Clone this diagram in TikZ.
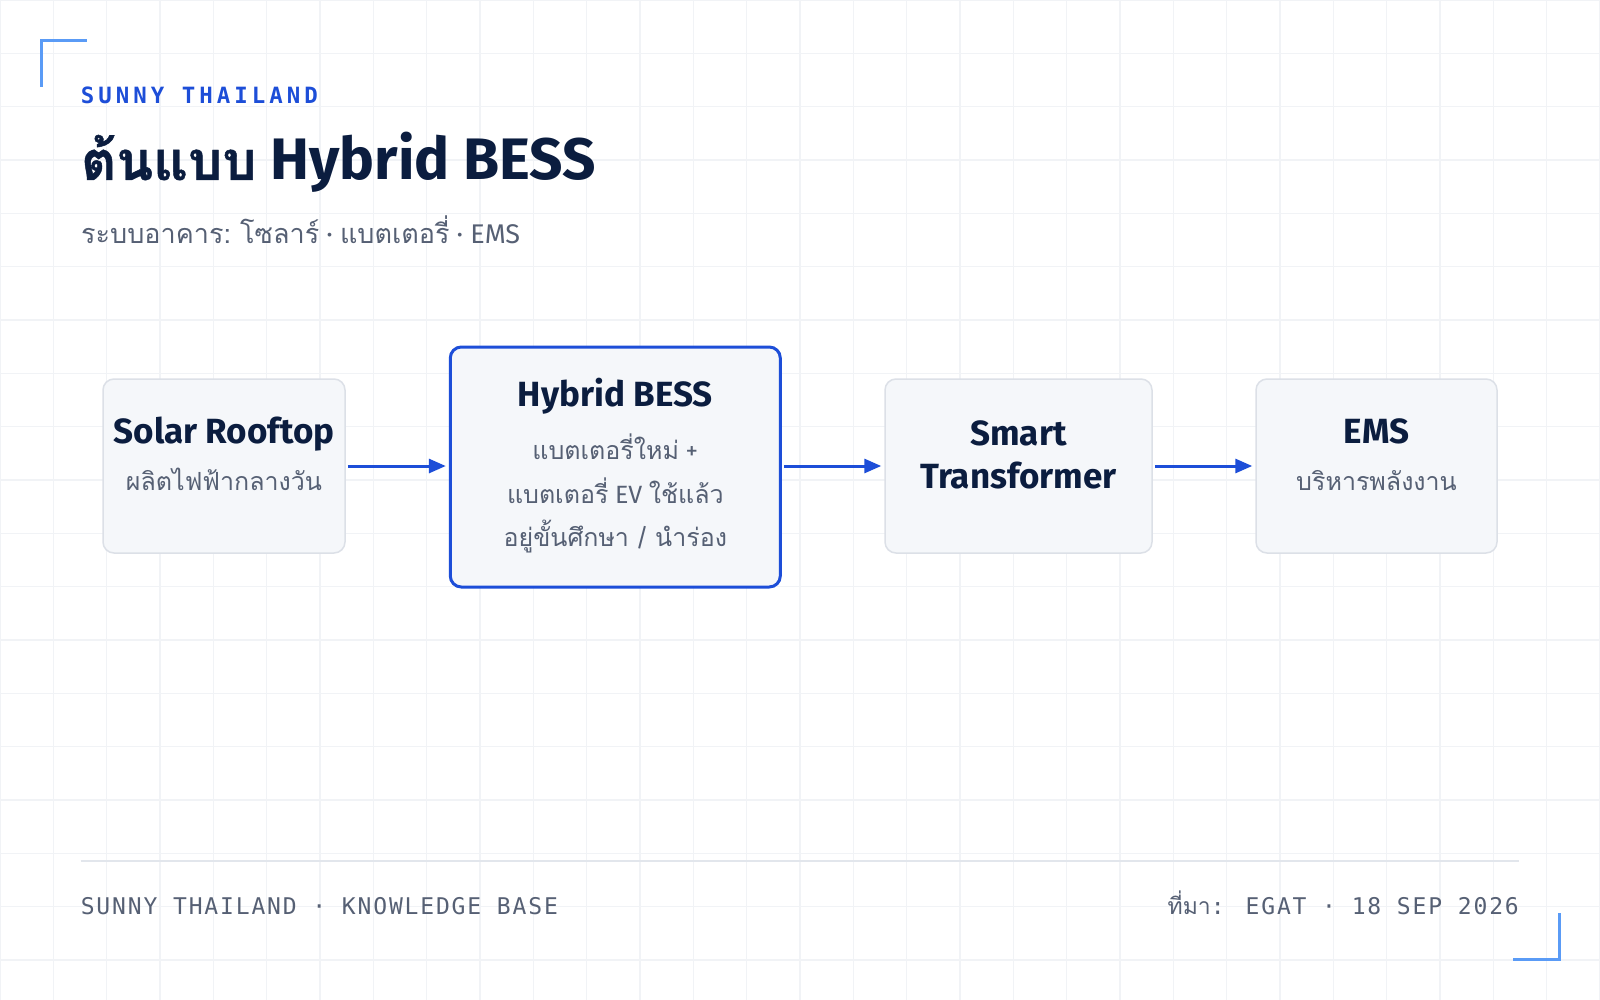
\documentclass[tikz,border=0pt]{standalone}
\usepackage{fontspec}
\setmainfont{Fira Sans}
\newfontfamily\thai[Script=Thai]{Loma}
\newfontfamily\thaititle[Script=Thai, BoldFeatures={FakeBold=0.8}]{Loma}
\newfontfamily\mono{DejaVu Sans Mono}
\newfontfamily\monols[LetterSpace=18]{DejaVu Sans Mono}
\newfontfamily\monolsb[LetterSpace=8]{DejaVu Sans Mono}
\usetikzlibrary{arrows.meta}
\definecolor{navy}{HTML}{0B1D3F}
\definecolor{accent}{HTML}{1D4ED8}
\definecolor{corner}{HTML}{5A9BF6}
\definecolor{muted}{HTML}{566074}
\definecolor{boxfill}{HTML}{F5F7FA}
\definecolor{boxline}{HTML}{DCE0E7}
\definecolor{gridc}{HTML}{F1F3F6}
\definecolor{rulec}{HTML}{E2E6EC}
\tikzset{
  card/.style={draw=boxline, line width=1.5pt, fill=boxfill, rounded corners=11pt, inner sep=0pt},
  hicard/.style={draw=accent, line width=3pt, fill=boxfill, rounded corners=11pt, inner sep=0pt},
  ttl/.style={anchor=base, inner sep=0pt, text=navy, font=\fontsize{35}{40}\selectfont\bfseries},
  sub/.style={anchor=base, inner sep=0pt, text=muted, font=\fontsize{25}{30}\selectfont},
  flow/.style={draw=accent, line width=3pt, -{Triangle[length=17pt,width=14pt]}, shorten <=2pt, shorten >=3pt},
  lbl/.style={anchor=base west, inner sep=0pt},
}
\begin{document}
\begin{tikzpicture}[x=1pt,y=-1pt]
\fill[white] (0,0) rectangle (1600,1000);
\useasboundingbox (0,0) rectangle (1600,1000);
% grid
\foreach \i in {0,...,30} \draw[gridc, line width=1.5pt] (\i*53.333,0) -- (\i*53.333,1000);
\foreach \j in {0,...,18} \draw[gridc, line width=1.5pt] (0,\j*53.333) -- (1600,\j*53.333);
% corners
\draw[corner, line width=3pt] (41,87) -- (41,41) -- (87,41);
\draw[corner, line width=3pt] (1513,959) -- (1559,959) -- (1559,913);
% header
\node[lbl, text=accent, font=\fontsize{22.4}{24}\monols\bfseries] (brand) at (80.6,104) {SUNNY THAILAND};
\node[lbl, text=navy, font=\fontsize{58.5}{66}\selectfont\bfseries] (title) at (81,180) {{\fontsize{54}{60}\selectfont\bfseries\thaititle ต้นแบบ} Hybrid BESS};
\node[lbl, text=muted, font=\fontsize{27}{32}\selectfont] (subtitle) at (81,244) {{\thai ระบบอาคาร:~โซลาร์} · {\thai แบตเตอรี่} · EMS};
% boxes
\node[card, minimum width=242pt, minimum height=174pt] (solar) at (224,466) {};
\node[hicard, minimum width=330pt, minimum height=240pt] (bess) at (615.3,467) {};
\node[card, minimum width=267pt, minimum height=174pt] (smart) at (1018.5,466) {};
\node[card, minimum width=241pt, minimum height=174pt] (ems) at (1376.5,466) {};
% box texts
\node[ttl] (solarT) at (224,443) {Solar Rooftop};
\node[sub] (solarS) at (224,490) {\thai ผลิตไฟฟ้ากลางวัน};
\node[ttl] (bessT) at (615.3,406) {Hybrid BESS};
\node[sub] (bessA) at (615.3,459) {{\thai แบตเตอรี่ใหม่} +};
\node[sub] (bessB) at (615.3,503) {{\thai แบตเตอรี่} EV {\thai ใช้แล้ว}};
\node[sub] (bessC) at (615.3,546) {{\thai อยู่ขั้นศึกษา} / {\thai นำร่อง}};
\node[ttl] (smartA) at (1018.5,445) {Smart};
\node[ttl] (smartB) at (1018.5,488) {Transformer};
\node[ttl] (emsT) at (1376.5,443) {EMS};
\node[sub] (emsS) at (1376.5,490) {\thai บริหารพลังงาน};
% connectors
\draw[flow] (solar.east) -- (bess.west |- solar.east);
\draw[flow] (bess.east |- smart.west) -- (smart.west);
\draw[flow] (smart.east) -- (ems.west);
% footer
\coordinate (ruleL) at (80.6,861);
\coordinate (ruleR) at (1519,861);
\draw[rulec, line width=2pt] (ruleL) -- (ruleR);
\node[lbl, text=muted, font=\fontsize{23}{26}\monolsb] (footL) at (80.6,914) {SUNNY THAILAND · KNOWLEDGE BASE};
\node[anchor=base east, inner sep=0pt, text=muted, font=\fontsize{23}{26}\monolsb] (footR) at (1519,914) {{\thai ที่มา}: EGAT · 18 SEP 2026};
\end{tikzpicture}
\end{document}
